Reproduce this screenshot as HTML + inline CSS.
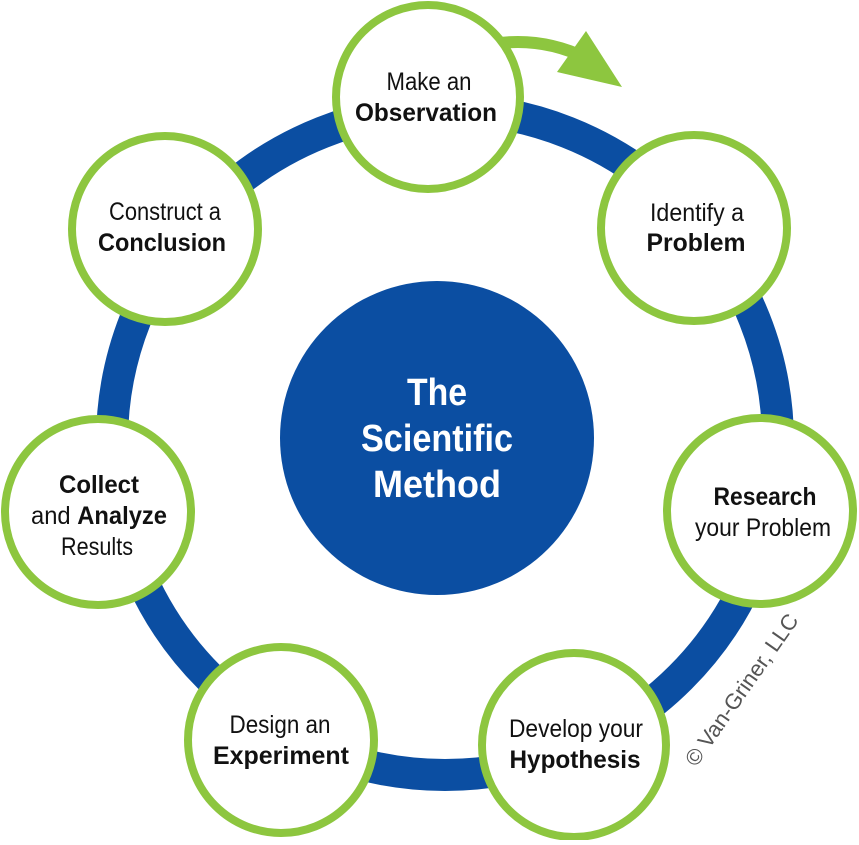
<!DOCTYPE html>
<html><head><meta charset="utf-8"><style>
html,body{margin:0;padding:0;background:#fff;}
svg text{font-family:"Liberation Sans Narrow","Liberation Sans",sans-serif;}
</style></head><body>
<svg width="859" height="840" viewBox="0 0 859 840" xmlns="http://www.w3.org/2000/svg">
<circle cx="445" cy="442" r="333" fill="none" stroke="#0b4ea2" stroke-width="32"/>
<circle cx="437" cy="438" r="157" fill="#0b4ea2"/>
<g font-weight="bold" fill="#fff" font-size="38" text-anchor="middle" lengthAdjust="spacingAndGlyphs">
<text x="437" y="405" textLength="60" lengthAdjust="spacingAndGlyphs">The</text>
<text x="437" y="451" textLength="152" lengthAdjust="spacingAndGlyphs">Scientific</text>
<text x="437" y="497" textLength="128" lengthAdjust="spacingAndGlyphs">Method</text>
</g>
<path d="M500,43 Q545,38 586,58" fill="none" stroke="#8dc63f" stroke-width="12"/>
<polygon points="586,31 622,87 557,72" fill="#8dc63f"/>
<g fill="#fff" stroke="#8dc63f" stroke-width="8">
<circle cx="428" cy="97" r="92"/>
<circle cx="694" cy="228" r="93"/>
<circle cx="760" cy="511" r="93"/>
<circle cx="574" cy="745" r="92"/>
<circle cx="281" cy="740" r="93"/>
<circle cx="98" cy="512" r="93"/>
<circle cx="165" cy="229" r="93"/>
</g>
<g fill="#111" font-size="25" text-anchor="middle">
<text x="429" y="90" textLength="85" lengthAdjust="spacingAndGlyphs">Make an</text>
<text x="426" y="121" font-weight="bold" textLength="142" lengthAdjust="spacingAndGlyphs">Observation</text>
<text x="697" y="221" textLength="94" lengthAdjust="spacingAndGlyphs">Identify a</text>
<text x="696" y="251" font-weight="bold" textLength="99" lengthAdjust="spacingAndGlyphs">Problem</text>
<text x="765" y="505" font-weight="bold" textLength="103" lengthAdjust="spacingAndGlyphs">Research</text>
<text x="763" y="536" textLength="136" lengthAdjust="spacingAndGlyphs">your Problem</text>
<text x="576" y="737" textLength="134" lengthAdjust="spacingAndGlyphs">Develop your</text>
<text x="575" y="768" font-weight="bold" textLength="131" lengthAdjust="spacingAndGlyphs">Hypothesis</text>
<text x="280" y="733" textLength="101" lengthAdjust="spacingAndGlyphs">Design an</text>
<text x="281" y="764" font-weight="bold" textLength="136" lengthAdjust="spacingAndGlyphs">Experiment</text>
<text x="99" y="493" font-weight="bold" textLength="80" lengthAdjust="spacingAndGlyphs">Collect</text>
<text x="99" y="524" textLength="136" lengthAdjust="spacingAndGlyphs"><tspan>and </tspan><tspan font-weight="bold">Analyze</tspan></text>
<text x="97" y="555" textLength="72" lengthAdjust="spacingAndGlyphs">Results</text>
<text x="165" y="220" textLength="112" lengthAdjust="spacingAndGlyphs">Construct a</text>
<text x="162" y="251" font-weight="bold" textLength="128" lengthAdjust="spacingAndGlyphs">Conclusion</text>
</g>
<text x="742" y="697" font-size="22" fill="#555" text-anchor="middle" textLength="180" lengthAdjust="spacingAndGlyphs" transform="rotate(-55 742 690)">© Van-Griner, LLC</text>
</svg>
</body></html>
